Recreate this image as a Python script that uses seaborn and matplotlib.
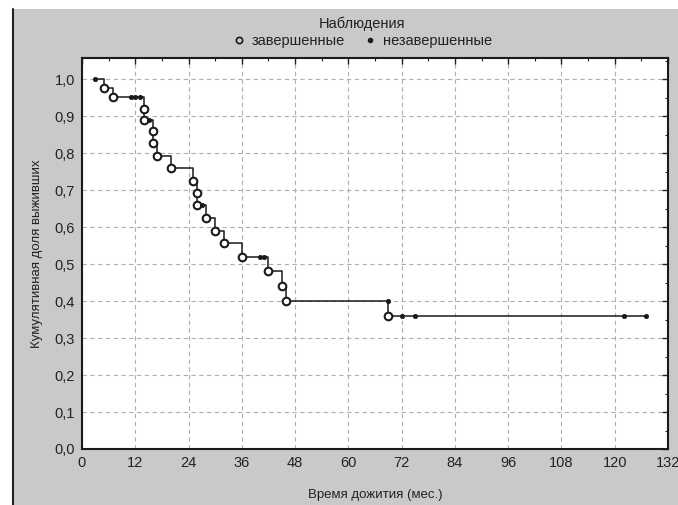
import matplotlib
matplotlib.use("Agg")
import matplotlib.pyplot as plt
import matplotlib.patches as mpatches
from matplotlib.lines import Line2D
from matplotlib.ticker import FuncFormatter, MultipleLocator
import numpy as np
import pandas as pd
import seaborn as sns

# Completed observations (events): time (months), cumulative survival after event
event_t = [5, 7, 14, 14, 16, 16, 17, 20, 25, 26, 26, 28, 30, 32, 36, 42, 45, 46, 69]
event_s = [0.976, 0.951, 0.920, 0.890, 0.859, 0.827, 0.793, 0.759, 0.724, 0.692,
           0.659, 0.625, 0.590, 0.556, 0.520, 0.481, 0.441, 0.400, 0.359]
# Censored observations
cens_t = [3, 11, 12, 13, 15, 27, 40, 41, 69, 72, 75, 122, 127]
cens_s = [1.0, 0.951, 0.951, 0.951, 0.890, 0.659, 0.520, 0.520, 0.400,
          0.359, 0.359, 0.359, 0.359]

x_ticks = list(range(0, 133, 12))
y_ticks = [round(v * 0.1, 1) for v in range(11)]

title_legend = "Наблюдения"
lab_event = "завершенные"
lab_cens = "незавершенные"
xlabel = "Время дожития (мес.)"
ylabel = "Кумулятивная доля выживших"

sns.set_theme(style="white")
plt.rcParams['font.family'] = ['Liberation Sans', 'DejaVu Sans']

ev = pd.DataFrame({"t": event_t, "s": event_s, "kind": "event"})
ce = pd.DataFrame({"t": cens_t, "s": cens_s, "kind": "cens"})
allp = pd.concat([ev, ce]).sort_values(["t", "s"], ascending=[True, False]).reset_index(drop=True)

fig = plt.figure(figsize=(6.78, 5.05), dpi=100)
fig.patch.set_facecolor("white")
bg = mpatches.Rectangle((13 / 678, 0), 1 - 13 / 678 + 0.01, 1 - 9 / 505, transform=fig.transFigure,
                        facecolor="#c9c9c9", edgecolor="none", zorder=-10)
fig.patches.append(bg)
fig.add_artist(Line2D([13 / 678, 13 / 678], [0, 1 - 9 / 505], transform=fig.transFigure,
                      color="#222222", linewidth=1.5, zorder=-9))

ax = fig.add_axes([82 / 678, 1 - 449 / 505, (668 - 82) / 678, (449 - 58) / 505])
ax.set_zorder(1)
ax.set_facecolor("white")

sns.lineplot(data=allp, x="t", y="s", estimator=None, sort=False, drawstyle="steps-post",
             color="#1a1a1a", linewidth=1.1, ax=ax, zorder=3)
sns.scatterplot(data=ev, x="t", y="s", marker="o", s=30, facecolor="white",
                edgecolor="#1a1a1a", linewidth=1.5, ax=ax, zorder=4)
sns.scatterplot(data=ce, x="t", y="s", marker="o", s=10, color="#1a1a1a",
                edgecolor="#1a1a1a", linewidth=0.5, ax=ax, zorder=4)

ax.set_xlim(0, 132)
ax.set_ylim(0, 1.057)
ax.set_xticks(x_ticks)
ax.set_yticks(y_ticks)
ax.yaxis.set_major_formatter(FuncFormatter(lambda v, p: f"{v:.1f}".replace(".", ",")))
ax.xaxis.set_minor_locator(MultipleLocator(6))
ax.yaxis.set_minor_locator(MultipleLocator(0.05))
ax.tick_params(which="both", direction="in", top=True, right=True, color="#222222")
ax.tick_params(which="major", length=4, width=1, labelsize=10.5, labelcolor="#222222", pad=5)
ax.tick_params(which="minor", length=2, width=0.8)
ax.grid(True, which="major", linestyle=(0, (4, 3)), color="#b0b0b0", linewidth=0.8)
for sp in ax.spines.values():
    sp.set_color("#1a1a1a")
    sp.set_linewidth(1.5)
ax.set_xlabel(xlabel, fontsize=9.5, color="#222222", labelpad=14)
ax.set_ylabel(ylabel, fontsize=9.5, color="#222222", labelpad=8)

handles = [
    Line2D([], [], marker="o", linestyle="none", markersize=4.5, markerfacecolor="none",
           markeredgecolor="#1a1a1a", markeredgewidth=1.2, label=lab_event),
    Line2D([], [], marker="o", linestyle="none", markersize=3, color="#1a1a1a", label=lab_cens),
]
leg = fig.legend(handles=handles, title=title_legend, loc="upper center",
                 bbox_to_anchor=(362 / 678, 1 - 11 / 505), ncol=2, frameon=False,
                 fontsize=10.5, title_fontsize=10.5, handletextpad=0.4, columnspacing=1.2,
                 borderaxespad=0, handlelength=1.0, labelspacing=0.2)
leg.get_title().set_color("#222222")
for t in leg.get_texts():
    t.set_color("#222222")

fig.savefig("out.png", dpi=100)
